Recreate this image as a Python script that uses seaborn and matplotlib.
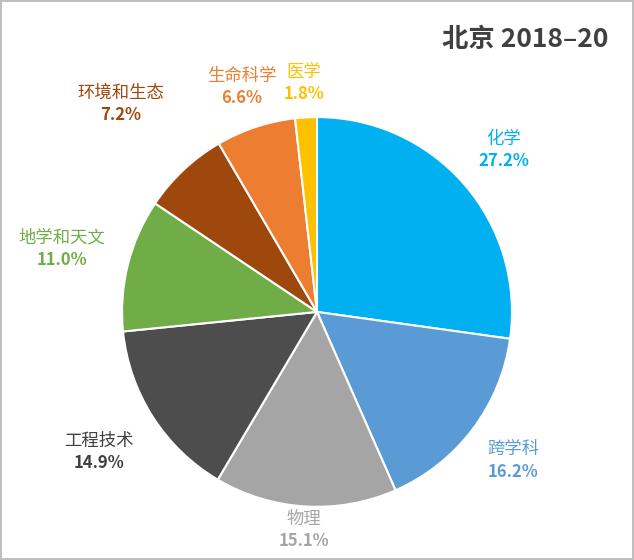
import numpy as np
import matplotlib
matplotlib.use("Agg")
import matplotlib.pyplot as plt
import seaborn as sns

sns.set_theme(style="white", font="Noto Sans CJK SC")

labels = ["化学", "跨学科", "物理", "工程技术", "地学和天文", "环境和生态", "生命科学", "医学"]
shares = [27.2, 16.2, 15.1, 14.9, 11.0, 7.2, 6.6, 1.8]
colors = ["#00B0F0", "#5B9BD5", "#A5A5A5", "#4D4D4D", "#70AD47", "#9E480E", "#ED7D31", "#FFC000"]
label_colors = ["#00B0F0", "#5B9BD5", "#A5A5A5", "#404040", "#70AD47", "#9E480E", "#ED7D31", "#FFC000"]
label_dist = [1.27, 1.26, 1.12, 1.33, 1.35, 1.47, 1.22, 1.18]

fig = plt.figure(figsize=(6.34, 5.6), dpi=100)
fig.patch.set_edgecolor("#BFBFBF")
fig.patch.set_linewidth(1.5)
ax = fig.add_axes([0.1925, 0.095, 0.615, 0.696])

wedges, _ = ax.pie(shares, colors=colors, startangle=90, counterclock=False,
                   wedgeprops=dict(edgecolor="white", linewidth=1.5))
ax.set_xlim(-1, 1)
ax.set_ylim(-1, 1)
ax.set_aspect("auto")

for w, name, pct, c, d in zip(wedges, labels, shares, label_colors, label_dist):
    ang = np.deg2rad((w.theta1 + w.theta2) / 2)
    x, y = d * np.cos(ang), d * np.sin(ang)
    ax.text(x, y + 0.055, name, color=c, fontsize=12.5, ha="center", va="center")
    ax.text(x, y - 0.06, f"{pct:.1f}%", color=c, fontsize=12, fontweight="bold",
            ha="center", va="center")

fig.text(0.96, 0.93, "北京 2018–20", fontsize=19, fontweight="bold",
         color="#404040", ha="right", va="center")

fig.savefig("out.png", dpi=100)
